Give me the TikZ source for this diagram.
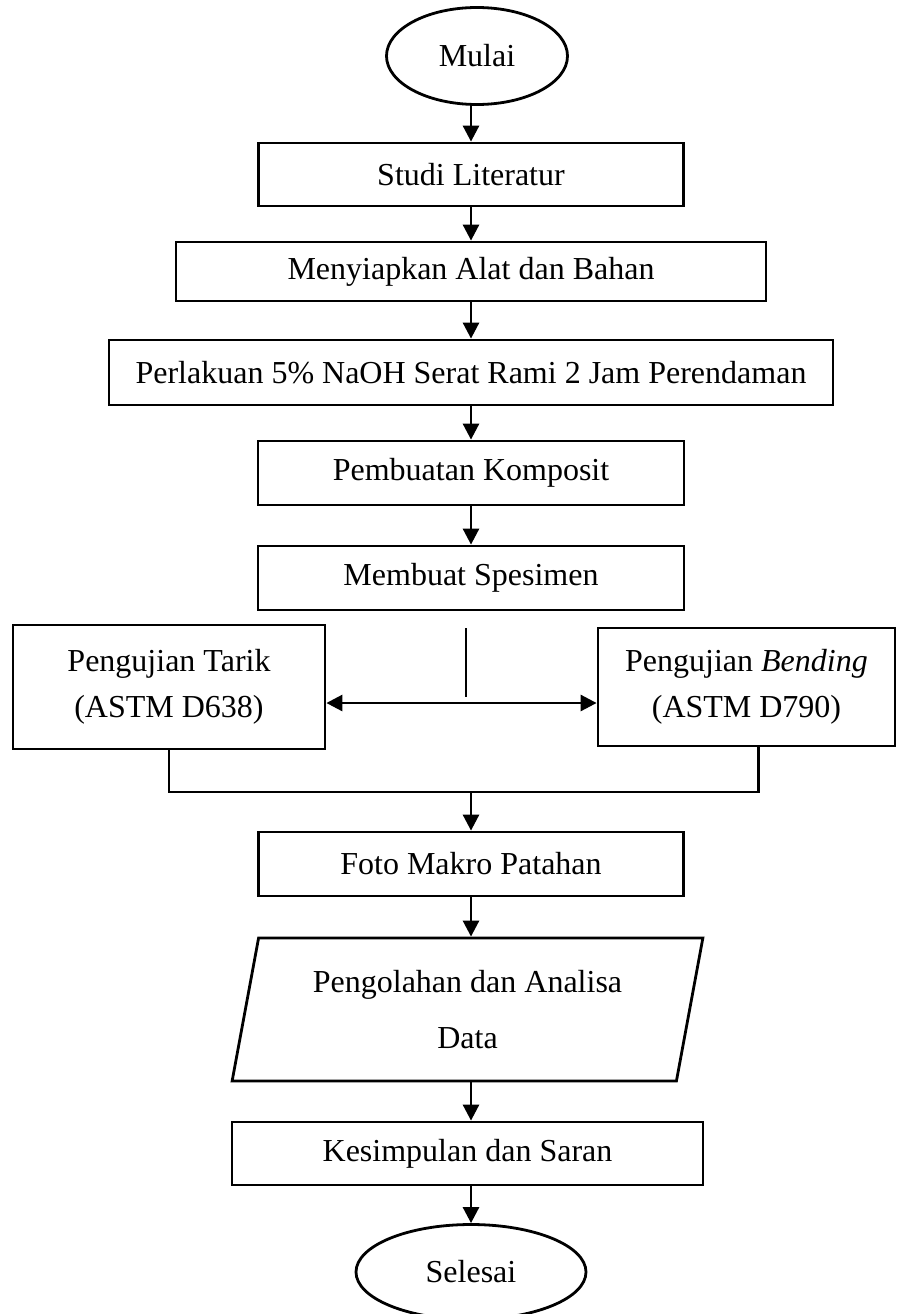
\documentclass[tikz,border=0pt]{standalone}
\usepackage{fontspec}
\setmainfont{Liberation Serif}
\usetikzlibrary{arrows.meta,shapes.geometric}

\begin{document}
\begin{tikzpicture}[yscale=-1, x=1pt, y=1pt,
	box/.style={draw, line width=2.8pt, minimum height=64pt, inner sep=0pt},
	term/.style={draw, ellipse, line width=2.8pt, inner sep=0pt},
	io/.style={draw, trapezium, trapezium left angle=76, trapezium right angle=104,
		trapezium stretches=true, line width=2.8pt, inner sep=0pt},
	line/.style={line width=2.8pt},
	arr/.style={line, -{Triangle[length=16pt, width=16pt]}},
	font=\fontsize{32}{38}\selectfont]
	\useasboundingbox (0,0) rectangle (897,1314);

	\node[term, minimum width=181pt, minimum height=97pt] (mulai) at (477,56) {Mulai};
	\node[box, minimum width=425pt, minimum height=63pt] (studi) at (471,174.5) {Studi Literatur};
	\node[box, minimum width=590pt, minimum height=59pt] (siap) at (471,271.5) {Menyiapkan Alat dan Bahan};
	\node[box, minimum width=724pt, minimum height=65pt] (naoh) at (471,372.5) {Perlakuan 5\% NaOH Serat Rami 2 Jam Perendaman};
	\node[box, minimum width=426pt] (komposit) at (471,473) {Pembuatan Komposit};
	\node[box, minimum width=426pt] (spesimen) at (471,578) {Membuat Spesimen};
	\node[box, minimum width=312pt, minimum height=124pt, align=center,
		font=\fontsize{32}{46}\selectfont] (tarik) at (169,687) {Pengujian Tarik\\(ASTM D638)};
	\node[box, minimum width=297pt, minimum height=118pt, align=center,
		font=\fontsize{32}{46}\selectfont] (bending) at (746.5,687) {Pengujian \textit{Bending}\\(ASTM D790)};
	\node[box, minimum width=425pt] (foto) at (471,864) {Foto Makro Patahan};
	\node[io, minimum width=471pt, minimum height=143pt, align=center,
		font=\fontsize{32}{56}\selectfont] (data) at (467.5,1009.5) {Pengolahan dan Analisa\\Data};
	\node[box, minimum width=471pt, minimum height=63pt] (simpul) at (467.5,1153.5) {Kesimpulan dan Saran};
	\node[term, minimum width=230pt, minimum height=95pt] (selesai) at (471,1272) {Selesai};

	\coordinate (split) at (466,703);
	\coordinate (stubtop) at (466,628);
	\coordinate (stubend) at (466,697);
	\coordinate (merge) at (471,792);

	\draw[arr] (mulai.south -| studi) -- (studi);
	\draw[arr] (studi) -- (siap);
	\draw[arr] (siap) -- (naoh);
	\draw[arr] (naoh) -- (komposit);
	\draw[arr] (komposit) -- (spesimen);
	\draw[line] (stubtop) -- (stubend);
	\draw[line, {Triangle[length=16pt, width=16pt]}-{Triangle[length=16pt, width=16pt]}]
		(split -| tarik.east) -- (split -| bending.west);
	\draw[line] (tarik.south) |- (merge) -| ([xshift=12pt]bending.south);
	\draw[arr] (merge) -- (foto);
	\draw[arr] (foto.south) -- (foto.south |- data.north);
	\draw[arr] (data.south -| foto) -- (foto |- simpul.north);
	\draw[arr] (simpul.south -| foto) -- (selesai.north);
\end{tikzpicture}
\end{document}
